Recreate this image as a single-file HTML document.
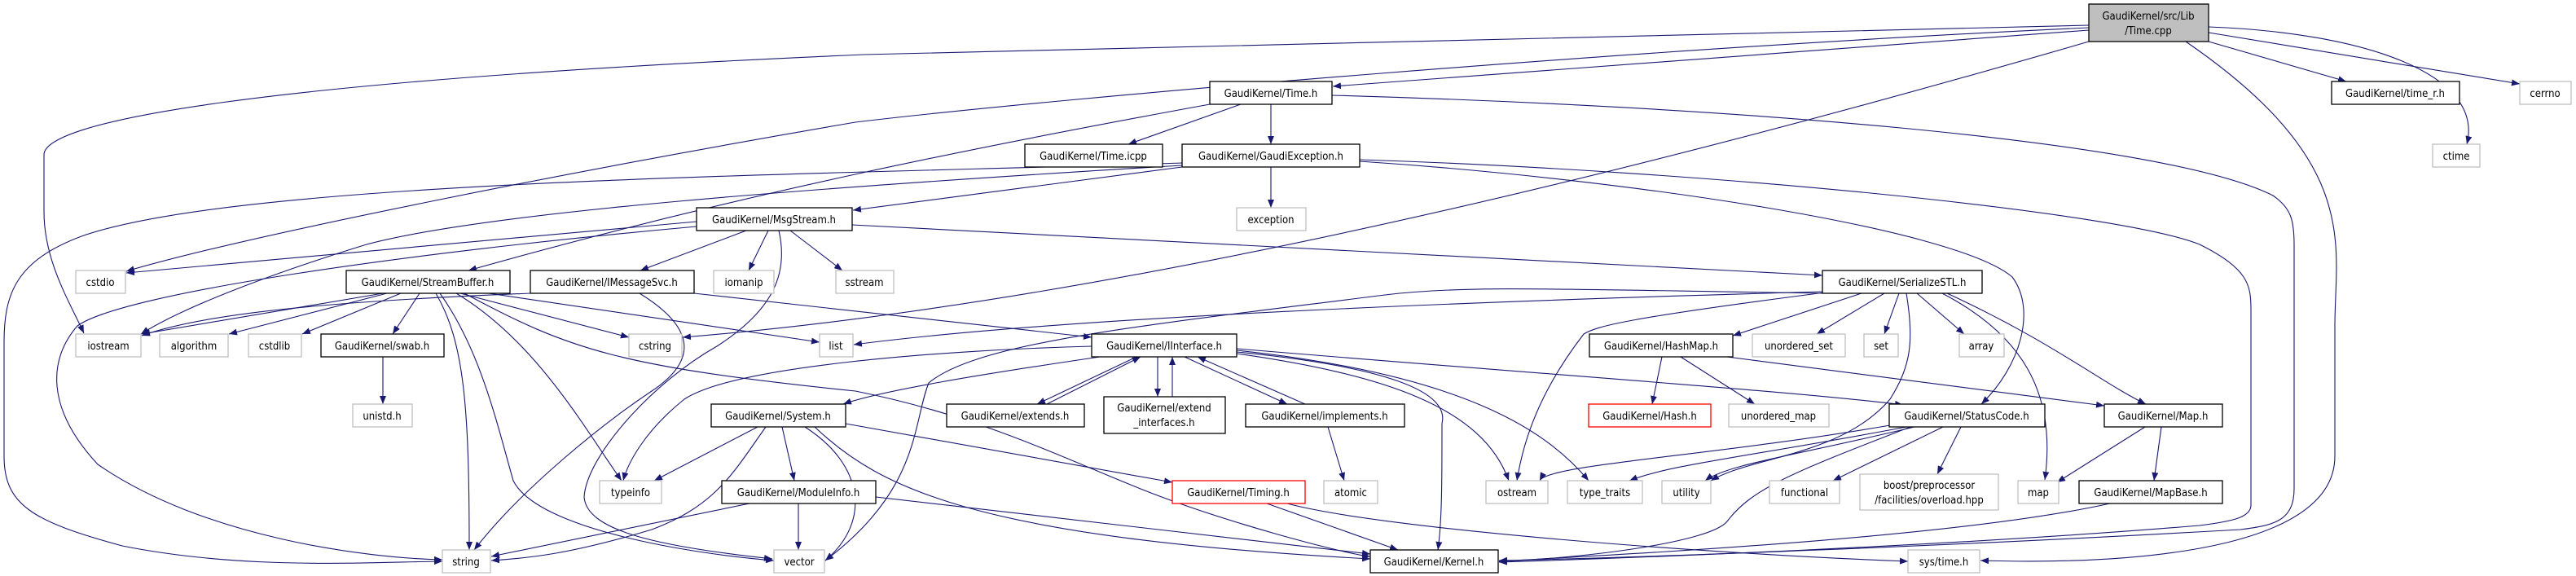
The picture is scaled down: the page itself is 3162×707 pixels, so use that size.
<!DOCTYPE html>
<html><head><meta charset="utf-8"><style>
html,body{margin:0;padding:0;background:#fff;}
svg{display:block;}
text{font-family:"DejaVu Sans Condensed","DejaVu Sans","Liberation Sans",sans-serif;font-size:13px;fill:#000;text-anchor:middle;}
.e{fill:none;stroke:#191970;stroke-width:1.1;marker-end:url(#a);}
.b{fill:#fff;stroke:#000;stroke-width:1.3;}
.g{fill:#fff;stroke:#bfbfbf;stroke-width:1.3;}
.r{fill:#fff;stroke:#ff0000;stroke-width:1.3;}
</style></head><body>
<svg width="3162" height="707" viewBox="0 0 3162 707" xmlns="http://www.w3.org/2000/svg">
<defs><marker id="a" markerUnits="userSpaceOnUse" markerWidth="11" markerHeight="8" refX="10" refY="4" orient="auto"><path d="M0,0 L10,4 L0,8 z" fill="#191970"/></marker></defs>
<!-- edges -->
<path class="e" d="M2564,31 L1060,67 C300,100 54,150 54,190 L54,260 C54,320 85,370 103,409"/>
<path class="e" d="M2564,37 L1636,106"/>
<path class="e" d="M2564,34 C2000,60 1300,120 1050,150 C700,210 300,290 155,333"/>
<path class="e" d="M2564,51 Q1500,360 838,414"/>
<path class="e" d="M2683,51 C2900,200 2866,300 2866,400 L2866,560 C2866,700 2500,690 2431,688"/>
<path class="e" d="M2711,51 L2880,100"/>
<path class="e" d="M2711,40 L3093,103"/>
<path class="e" d="M2711,33 C2900,40 3050,90 3028,177"/>
<path class="e" d="M1523,128 L1385,177"/>
<path class="e" d="M1560,128 L1560,177"/>
<path class="e" d="M1485,128 C1200,180 900,240 575,332"/>
<path class="e" d="M1635,117 C2100,130 2650,170 2790,240 C2812,255 2816,270 2816,300 L2816,600 C2816,640 2790,645 2750,650 C2400,670 2000,685 1840,688"/>
<path class="e" d="M1560,205 L1560,255"/>
<path class="e" d="M1451,205 L1047,258"/>
<path class="e" d="M1451,203 C1000,230 600,260 450,300 C320,340 220,380 173,410"/>
<path class="e" d="M1451,200 C1000,215 300,220 100,290 C20,320 5,360 5,420 L5,560 C5,620 40,640 150,670 C300,700 450,690 543,689"/>
<path class="e" d="M1669,196 C2100,210 2600,260 2700,300 C2760,330 2763,350 2763,380 L2763,620 C2763,635 2740,640 2700,645 C2400,670 2000,685 1840,690"/>
<path class="e" d="M1669,198 C2000,220 2400,280 2470,340 C2500,380 2480,450 2432,496"/>
<path class="e" d="M855,272 L155,335"/>
<path class="e" d="M855,278 C500,310 150,360 95,400 C60,440 55,500 120,570 C250,660 450,685 543,687"/>
<path class="e" d="M916,283 L786,332"/>
<path class="e" d="M943,283 L919,332"/>
<path class="e" d="M970,283 L1034,332"/>
<path class="e" d="M956,283 C968,335 950,380 880,425 C800,470 720,560 717,610 C720,650 800,670 948,686"/>
<path class="e" d="M1046,276 L2237,338"/>
<path class="e" d="M651,360 C400,370 250,385 174,412"/>
<path class="e" d="M785,360 C850,400 860,440 800,480 C740,520 640,600 582,675"/>
<path class="e" d="M852,360 L1340,414"/>
<path class="e" d="M470,360 L174,410"/>
<path class="e" d="M475,360 L281,410"/>
<path class="e" d="M492,360 L371,410"/>
<path class="e" d="M515,360 L482,410"/>
<path class="e" d="M535,360 C570,420 576,500 576,675"/>
<path class="e" d="M540,360 C590,430 610,520 630,590 C660,650 850,680 950,688"/>
<path class="e" d="M560,360 C660,420 720,530 763,590"/>
<path class="e" d="M565,360 L772,414"/>
<path class="e" d="M600,360 L1006,420"/>
<path class="e" d="M570,360 C700,430 760,450 1050,480 C1200,510 1300,560 1400,600 C1500,640 1650,680 1682,683"/>
<path class="e" d="M470,438 L470,496"/>
<path class="e" d="M2237,358 C1800,370 1300,390 1048,423"/>
<path class="e" d="M2240,360 C1900,355 1800,350 1700,362 C1400,400 1200,420 1140,470 C1120,520 1130,600 1013,688"/>
<path class="e" d="M2240,359 C2000,390 1960,400 1944,410 C1890,480 1870,540 1862,590"/>
<path class="e" d="M2285,360 L2127,412"/>
<path class="e" d="M2313,360 L2230,410"/>
<path class="e" d="M2331,360 L2313,410"/>
<path class="e" d="M2353,360 L2411,410"/>
<path class="e" d="M2384,360 C2480,410 2525,480 2510,589"/>
<path class="e" d="M2390,360 C2520,420 2580,470 2634,496"/>
<path class="e" d="M2340,360 C2350,420 2345,450 2320,490 C2260,560 2150,560 2100,590"/>
<path class="e" d="M1350,438 C1200,460 1080,480 1035,496"/>
<path class="e" d="M1395,438 L1273,496"/>
<path class="e" d="M1285,496 L1400,438"/>
<path class="e" d="M1421,438 L1421,487"/>
<path class="e" d="M1439,487 L1439,438"/>
<path class="e" d="M1454,438 L1580,496"/>
<path class="e" d="M1602,496 L1470,438"/>
<path class="e" d="M1340,425 C1150,430 900,450 840,490 C790,530 770,570 765,590"/>
<path class="e" d="M1518,432 C1700,450 1780,480 1770,520 C1770,590 1770,640 1765,675"/>
<path class="e" d="M1518,434 C1700,460 1820,500 1852,590"/>
<path class="e" d="M1518,430 C1800,460 1900,530 1950,590"/>
<path class="e" d="M1518,428 C1900,460 2200,480 2336,497"/>
<path class="e" d="M1630,524 L1650,590"/>
<path class="e" d="M2040,438 L2028,496"/>
<path class="e" d="M2063,438 L2154,496"/>
<path class="e" d="M2120,438 L2583,498"/>
<path class="e" d="M930,524 L803,590"/>
<path class="e" d="M940,524 C900,580 880,620 800,650 C700,680 650,685 603,688"/>
<path class="e" d="M960,524 L975,590"/>
<path class="e" d="M988,524 C1060,570 1070,640 1013,688"/>
<path class="e" d="M1038,520 L1439,592"/>
<path class="e" d="M1000,524 C1080,600 1200,660 1682,686"/>
<path class="e" d="M920,618 L603,683"/>
<path class="e" d="M980,618 L980,675"/>
<path class="e" d="M1075,610 L1682,680"/>
<path class="e" d="M1555,618 L1716,675"/>
<path class="e" d="M1580,618 C1700,650 2100,680 2342,689"/>
<path class="e" d="M2320,522 C2100,560 1900,570 1890,590"/>
<path class="e" d="M2340,524 C2150,560 2050,570 2000,590"/>
<path class="e" d="M2350,524 C2200,560 2120,570 2093,590"/>
<path class="e" d="M2385,524 L2250,590"/>
<path class="e" d="M2407,524 L2378,582"/>
<path class="e" d="M2345,524 C2200,580 2150,600 2120,640 C2100,665 1950,685 1840,689"/>
<path class="e" d="M2633,524 L2525,592"/>
<path class="e" d="M2653,524 L2644,590"/>
<path class="e" d="M2590,618 C2400,660 2000,680 1840,689"/>
<!-- nodes -->
<rect x="2564" y="5" width="147" height="46" fill="#bfbfbf" stroke="#000" stroke-width="1.3"/><text x="2637" y="24">GaudiKernel/src/Lib</text><text x="2637" y="42">/Time.cpp</text>
<rect class="b" x="1485" y="100" width="150" height="28"/><text x="1560" y="119">GaudiKernel/Time.h</text>
<rect class="b" x="1258" y="177" width="169" height="28"/><text x="1342" y="196">GaudiKernel/Time.icpp</text>
<rect class="b" x="1451" y="177" width="218" height="28"/><text x="1560" y="196">GaudiKernel/GaudiException.h</text>
<rect class="g" x="1518" y="255" width="85" height="28"/><text x="1560" y="274">exception</text>
<rect class="b" x="855" y="255" width="191" height="28"/><text x="950" y="274">GaudiKernel/MsgStream.h</text>
<rect class="g" x="93" y="332" width="61" height="28"/><text x="123" y="351">cstdio</text>
<rect class="b" x="425" y="332" width="201" height="28"/><text x="525" y="351">GaudiKernel/StreamBuffer.h</text>
<rect class="b" x="651" y="332" width="201" height="28"/><text x="751" y="351">GaudiKernel/IMessageSvc.h</text>
<rect class="g" x="876" y="332" width="74" height="28"/><text x="913" y="351">iomanip</text>
<rect class="g" x="1026" y="332" width="71" height="28"/><text x="1061" y="351">sstream</text>
<rect class="b" x="2237" y="332" width="196" height="28"/><text x="2335" y="351">GaudiKernel/SerializeSTL.h</text>
<rect class="g" x="93" y="410" width="80" height="28"/><text x="133" y="429">iostream</text>
<rect class="g" x="196" y="410" width="84" height="28"/><text x="238" y="429">algorithm</text>
<rect class="g" x="305" y="410" width="65" height="28"/><text x="337" y="429">cstdlib</text>
<rect class="b" x="394" y="410" width="151" height="28"/><text x="469" y="429">GaudiKernel/swab.h</text>
<rect class="g" x="772" y="410" width="65" height="28"/><text x="804" y="429">cstring</text>
<rect class="g" x="1006" y="410" width="41" height="28"/><text x="1026" y="429">list</text>
<rect class="b" x="1340" y="410" width="178" height="28"/><text x="1429" y="429">GaudiKernel/IInterface.h</text>
<rect class="b" x="1951" y="410" width="176" height="28"/><text x="2039" y="429">GaudiKernel/HashMap.h</text>
<rect class="g" x="2151" y="410" width="114" height="28"/><text x="2208" y="429">unordered_set</text>
<rect class="g" x="2288" y="410" width="42" height="28"/><text x="2309" y="429">set</text>
<rect class="g" x="2405" y="410" width="55" height="28"/><text x="2432" y="429">array</text>
<rect class="g" x="433" y="496" width="73" height="28"/><text x="469" y="515">unistd.h</text>
<rect class="b" x="873" y="496" width="165" height="28"/><text x="955" y="515">GaudiKernel/System.h</text>
<rect class="b" x="1162" y="496" width="169" height="28"/><text x="1246" y="515">GaudiKernel/extends.h</text>
<rect class="b" x="1355" y="487" width="149" height="45"/><text x="1429" y="505">GaudiKernel/extend</text><text x="1429" y="523">_interfaces.h</text>
<rect class="b" x="1529" y="496" width="195" height="28"/><text x="1626" y="515">GaudiKernel/implements.h</text>
<rect class="r" x="1950" y="496" width="150" height="28"/><text x="2025" y="515">GaudiKernel/Hash.h</text>
<rect class="g" x="2122" y="496" width="123" height="28"/><text x="2183" y="515">unordered_map</text>
<rect class="b" x="2319" y="496" width="191" height="28"/><text x="2414" y="515">GaudiKernel/StatusCode.h</text>
<rect class="b" x="2583" y="496" width="145" height="28"/><text x="2655" y="515">GaudiKernel/Map.h</text>
<rect class="g" x="736" y="590" width="76" height="28"/><text x="774" y="609">typeinfo</text>
<rect class="b" x="886" y="590" width="189" height="28"/><text x="980" y="609">GaudiKernel/ModuleInfo.h</text>
<rect class="r" x="1439" y="590" width="163" height="28"/><text x="1520" y="609">GaudiKernel/Timing.h</text>
<rect class="g" x="1625" y="590" width="66" height="28"/><text x="1658" y="609">atomic</text>
<rect class="g" x="1824" y="590" width="76" height="28"/><text x="1862" y="609">ostream</text>
<rect class="g" x="1924" y="590" width="92" height="28"/><text x="1970" y="609">type_traits</text>
<rect class="g" x="2040" y="590" width="60" height="28"/><text x="2070" y="609">utility</text>
<rect class="g" x="2172" y="590" width="86" height="28"/><text x="2215" y="609">functional</text>
<rect class="g" x="2283" y="582" width="170" height="44"/><text x="2368" y="600">boost/preprocessor</text><text x="2368" y="618">/facilities/overload.hpp</text>
<rect class="g" x="2477" y="590" width="50" height="28"/><text x="2502" y="609">map</text>
<rect class="b" x="2552" y="590" width="176" height="28"/><text x="2640" y="609">GaudiKernel/MapBase.h</text>
<rect class="b" x="2862" y="100" width="157" height="28"/><text x="2940" y="119">GaudiKernel/time_r.h</text>
<rect class="g" x="3093" y="100" width="63" height="28"/><text x="3124" y="119">cerrno</text>
<rect class="g" x="2986" y="177" width="58" height="28"/><text x="3015" y="196">ctime</text>
<rect class="g" x="543" y="675" width="59" height="28"/><text x="572" y="694">string</text>
<rect class="g" x="950" y="675" width="62" height="28"/><text x="981" y="694">vector</text>
<rect class="b" x="1682" y="675" width="157" height="28"/><text x="1760" y="694">GaudiKernel/Kernel.h</text>
<rect class="g" x="2342" y="675" width="88" height="28"/><text x="2386" y="694">sys/time.h</text>
</svg>
</body></html>
